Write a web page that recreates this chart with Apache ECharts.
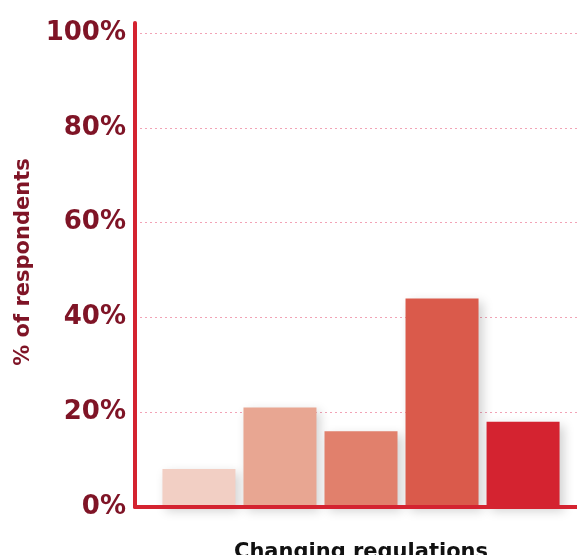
<!DOCTYPE html>
<html>
<head>
<meta charset="utf-8">
<style>
  html, body { margin: 0; padding: 0; background: #ffffff; }
  #chart { width: 577px; height: 555px; }
</style>
<script src="https://cdn.jsdelivr.net/npm/echarts@6/dist/echarts.min.js"></script>
</head>
<body>
<div id="chart"></div>
<script>
// Survey question shown on the category axis
const categories = ['Changing regulations'];
// Rating scale, one bar per response level
const responses = ['1', '2', '3', '4', '5'];
// Share of respondents per response level (%)
const shares = [8, 21, 16, 44, 18];
// Fill per response level, light to dark
const palette = ['#F2CFC4', '#E8A692', '#E1806C', '#DA5A4B', '#D42330'];
// Value-axis ticks
const tickValues = [0, 20, 40, 60, 80, 100];

const maroon = '#7F1426';
const axisRed = '#D42330';
const labelFont = 'DejaVu Sans';

const chart = echarts.init(document.getElementById('chart'), null, { renderer: 'canvas' });

const series = responses.map((name, i) => ({
  name: name,
  type: 'bar',
  xAxisIndex: 0,
  yAxisIndex: 0,
  barWidth: 73,
  barGap: '11%',
  data: [shares[i]],
  itemStyle: {
    color: palette[i],
    shadowBlur: 10,
    shadowColor: 'rgba(0,0,0,0.18)',
    shadowOffsetX: 4,
    shadowOffsetY: 4
  }
}));

chart.setOption({
  animation: false,
  backgroundColor: '#ffffff',
  grid: [
    // plotting area
    { left: 135, width: 452, top: 33, bottom: 48, outerBoundsMode: 'none', containLabel: false },
    // taller frame carrying only the vertical axis line
    { left: 135, width: 452, top: 23, bottom: 48, outerBoundsMode: 'none', containLabel: false }
  ],
  xAxis: [
    {
      gridIndex: 0,
      type: 'category',
      data: categories,
      z: 10,
      axisLine: { show: true, lineStyle: { color: axisRed, width: 4 } },
      axisTick: { show: false },
      axisLabel: {
        color: '#111111',
        fontFamily: labelFont,
        fontWeight: 'bold',
        fontSize: 21,
        margin: 35
      }
    },
    { gridIndex: 1, type: 'category', data: categories, show: false }
  ],
  yAxis: [
    {
      gridIndex: 0,
      type: 'value',
      min: tickValues[0],
      max: tickValues[tickValues.length - 1],
      interval: tickValues[1] - tickValues[0],
      name: '% of respondents',
      nameLocation: 'middle',
      nameGap: 101,
      nameRotate: 90,
      nameTextStyle: {
        color: maroon,
        fontFamily: labelFont,
        fontWeight: 'bold',
        fontSize: 21,
        padding: [0, 0, 0, 16]
      },
      axisLine: { show: false },
      axisTick: { show: false },
      splitLine: {
        show: true,
        lineStyle: { color: '#F2A3B6', width: 1, type: [2, 3] }
      },
      axisLabel: {
        color: maroon,
        fontFamily: labelFont,
        fontWeight: 'bold',
        fontSize: 26,
        margin: 9,
        padding: [0, 0, 6, 0],
        formatter: v => v + '%'
      }
    },
    {
      gridIndex: 1,
      type: 'value',
      min: 0,
      max: 1,
      z: 10,
      axisLine: { show: true, lineStyle: { color: axisRed, width: 4 } },
      axisTick: { show: false },
      axisLabel: { show: false },
      splitLine: { show: false }
    }
  ],
  series: series
});
</script>
</body>
</html>
